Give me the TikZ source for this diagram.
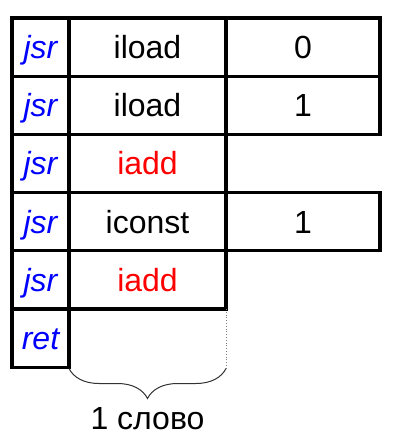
\documentclass[tikz,border=0pt]{standalone}
\usepackage{fontspec}
\setmainfont{Liberation Sans}
\usetikzlibrary{decorations.pathreplacing}
\definecolor{jblue}{RGB}{0,0,255}
\definecolor{jred}{RGB}{255,0,0}
\begin{document}
\begin{tikzpicture}[x=1pt,y=-1pt]
\useasboundingbox (0,0) rectangle (406,435);
\tikzset{
  cell/.style={draw, line width=3.2pt, inner sep=0pt, outer sep=0pt, minimum height=58.2pt,
    text height=23pt, text depth=0pt, font=\fontsize{32}{38}\selectfont},
  colA/.style={cell, minimum width=57pt},
  colB/.style={cell, minimum width=157pt},
  colC/.style={cell, minimum width=154pt},
  op/.style={text=jblue, font=\fontsize{32}{38}\selectfont\itshape},
  hot/.style={text=jred}
}
% row 1
\node[colA,op] (j1) at (40.5,47.1) {jsr};
\node[colB] (m1) at (147.5,47.1) {iload};
\node[colC] (a1) at (303,47.1) {0};
% row 2
\node[colA,op] (j2) at (40.5,105.3) {jsr};
\node[colB] (m2) at (147.5,105.3) {iload};
\node[colC] (a2) at (303,105.3) {1};
% row 3
\node[colA,op] (j3) at (40.5,163.5) {jsr};
\node[colB,hot] (m3) at (147.5,163.5) {iadd};
% row 4
\node[colA,op] (j4) at (40.5,221.7) {jsr};
\node[colB] (m4) at (147.5,221.7) {iconst};
\node[colC] (a4) at (303,221.7) {1};
% row 5
\node[colA,op] (j5) at (40.5,279.9) {jsr};
\node[colB,hot] (m5) at (147.5,279.9) {iadd};
% row 6
\node[colA,op] (j6) at (40.5,338.1) {ret};
\coordinate (br) at (226,368.5);
\coordinate (bl) at (69,368.5);
\draw[dotted, gray, line width=0.8pt] (m5.south east) -- (br);
\draw[decorate, decoration={brace, mirror, amplitude=30pt}, line width=1pt, black!80] (bl) -- (br);
\node[font=\fontsize{32}{38}\selectfont, text height=23pt, text depth=0pt, inner sep=0pt] (w) at (147.5,418) {1 слово};
\end{tikzpicture}
\end{document}
